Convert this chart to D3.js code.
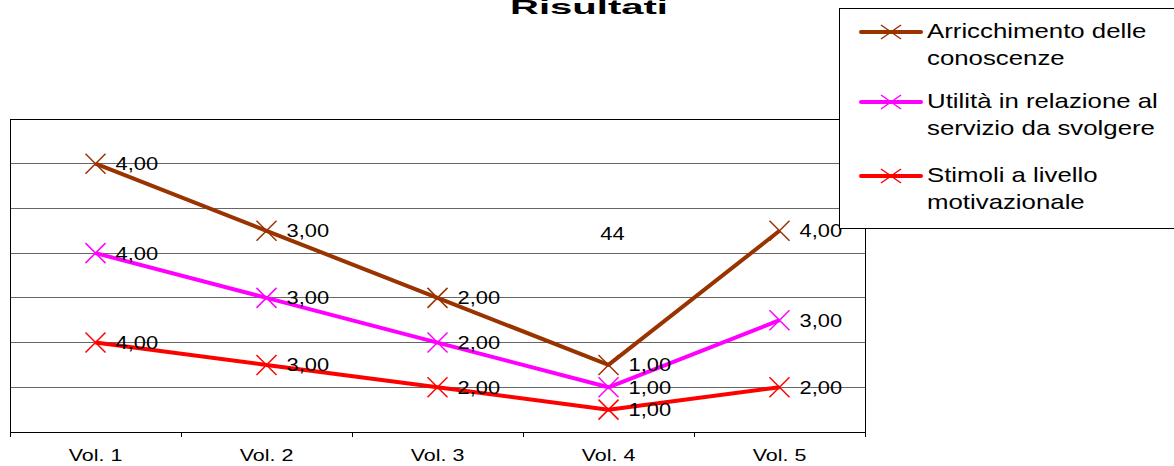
<!DOCTYPE html>
<html><head><meta charset="utf-8">
<script src="https://cdn.jsdelivr.net/npm/d3@7"></script>
<style>body{margin:0;background:#fff}svg{display:block}text{font-family:"Liberation Sans",Arial,sans-serif;fill:#000}</style>
</head><body><svg id="c" width="1174" height="466"></svg>
<script>
const categories = ["Vol. 1","Vol. 2","Vol. 3","Vol. 4","Vol. 5"];
const seriesNames = [["Arricchimento delle","conoscenze"],["Utilità in relazione al","servizio da svolgere"],["Stimoli a livello","motivazionale"]];
const arricchimento = [4,3,2,1,4];
const utilita = [4,3,2,1,3];
const stimoli = [4,3,2,1,2];
const colors = ["#993300","#FF00FF","#FF0000"];
const yTicks = [0,2,4,6,8,10,12,14];
const title = "Risultati";
const annotation = "44";

const svg = d3.select("#c");
const M = {l:10, r:865, t:119, b:432};
const x = d3.scaleBand().domain(categories).range([M.l, M.r]);
const y = d3.scaleLinear().domain([0,14]).range([M.b, M.t]);

// stacked: bottom = stimoli, then utilita, then arricchimento
const order = [stimoli, utilita, arricchimento];
const cum = [];
let base = categories.map(()=>0);
order.forEach(s=>{ base = base.map((b,i)=>b+s[i]); cum.push(base.slice()); });
const series = [
  {vals: arricchimento, top: cum[2], color: colors[0]},
  {vals: utilita, top: cum[1], color: colors[1]},
  {vals: stimoli, top: cum[0], color: colors[2]}
];

// gridlines
svg.append("g").selectAll("line").data(yTicks.filter(t=>t>0 && t<14)).join("line")
  .attr("x1",M.l).attr("x2",M.r).attr("y1",d=>y(d)).attr("y2",d=>y(d))
  .attr("stroke","#666").attr("stroke-width",1).attr("shape-rendering","crispEdges");
// plot border
svg.append("rect").attr("x",M.l).attr("y",M.t).attr("width",M.r-M.l).attr("height",M.b-M.t)
  .attr("fill","none").attr("stroke","#000").attr("stroke-width",1).attr("shape-rendering","crispEdges");

// x axis
const xa = svg.append("g").attr("transform",`translate(0,${M.b})`)
  .call(d3.axisBottom(x).tickSize(0).tickPadding(0));
xa.select(".domain").remove();
xa.selectAll("text").remove();
const bounds = categories.map(c=>x(c)).concat([M.r]);
svg.append("g").selectAll("line").data(bounds).join("line")
  .attr("x1",d=>d).attr("x2",d=>d).attr("y1",M.b).attr("y2",M.b+5)
  .attr("stroke","#000").attr("shape-rendering","crispEdges");
svg.append("g").selectAll("text").data(categories).join("text")
  .attr("transform",d=>`translate(${x(d)+x.bandwidth()/2},${M.b+29}) scale(1.3,1)`)
  .attr("text-anchor","middle").attr("font-size",16.5).text(d=>d);

const cx = d => x(d)+x.bandwidth()/2;
const line = d3.line().x((d,i)=>cx(categories[i])).y(d=>y(d));

series.forEach(s=>{
  svg.append("path").datum(s.top).attr("d",line).attr("fill","none")
    .attr("stroke",s.color).attr("stroke-width",4).attr("stroke-linejoin","round");
});
series.forEach(s=>{
  const g = svg.append("g");
  s.top.forEach((v,i)=>{
    const px = cx(categories[i]), py = y(v), r=10;
    g.append("path").attr("d",`M${px-r},${py-r}L${px+r},${py+r}M${px-r},${py+r}L${px+r},${py-r}`)
      .attr("stroke",s.color).attr("stroke-width",1.5).attr("fill","none");
  });
});
series.forEach(s=>{
  svg.append("g").selectAll("text").data(s.vals).join("text")
    .attr("transform",(d,i)=>`translate(${cx(categories[i])+20},${y(s.top[i])+6.5}) scale(1.25,1)`)
    .attr("font-size",17.5).text(d=>d3.format(".2f")(d).replace(".",","));
});

// annotation
svg.append("text").attr("transform",`translate(${cx(categories[3])+4},${y(9)+9}) scale(1.25,1)`)
  .attr("text-anchor","middle").attr("font-size",17.5).text(annotation);

// title
svg.append("text").attr("x",510).attr("y",14).attr("font-size",21).attr("font-weight",900)
  .attr("font-family","'DejaVu Sans',sans-serif").attr("textLength",158).attr("lengthAdjust","spacingAndGlyphs")
  .text(title);

// legend
const lg = svg.append("g");
lg.append("rect").attr("x",839.5).attr("y",8.5).attr("width",340).attr("height",220)
  .attr("fill","#fff").attr("stroke","#000").attr("stroke-width",1);
const ly = [32,102,176];
seriesNames.forEach((n,i)=>{
  const yy = ly[i];
  lg.append("line").attr("x1",861).attr("x2",921).attr("y1",yy).attr("y2",yy)
    .attr("stroke",colors[i]).attr("stroke-width",4).attr("stroke-linecap","round");
  lg.append("path").attr("d",`M881,${yy-7}L901,${yy+7}M881,${yy+7}L901,${yy-7}`)
    .attr("stroke",colors[i]).attr("stroke-width",1.5);
  n.forEach((t,j)=>{
    lg.append("text").attr("transform",`translate(927,${yy+6+j*26.5}) scale(1.29,1)`)
      .attr("font-size",20).text(t);
  });
});
</script></body></html>
